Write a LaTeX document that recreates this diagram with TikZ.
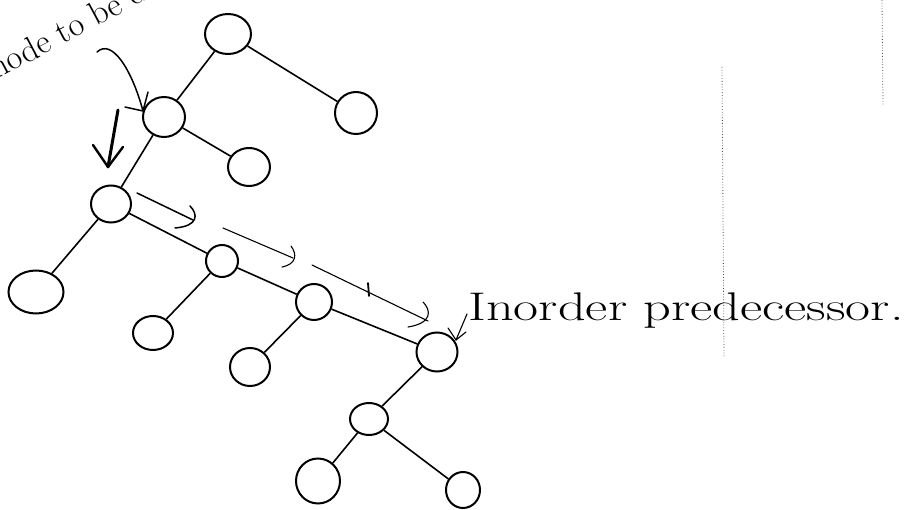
\documentclass[tikz,border=0pt]{standalone}
\begin{document}
\begin{tikzpicture}[x=1pt,y=-1pt,
  tn/.style={draw,ellipse,line width=2pt,inner sep=0pt},
  edge/.style={line width=1.6pt},
  hand/.style={line width=1.5pt,line cap=round,line join=round},
  scan/.style={dotted,line width=0.8pt,black!70}]
\usetikzlibrary{shapes.geometric}
\useasboundingbox (0,0) rectangle (913,510);
\clip (0,0) rectangle (913,510);
% nodes
\node[tn,minimum width=46pt,minimum height=40pt] (r)  at (228,34) {};
\node[tn,minimum width=42pt,minimum height=42pt] (rr) at (356,113) {};
\node[tn,minimum width=42pt,minimum height=40pt] (a)  at (164,117) {};
\node[tn,minimum width=42pt,minimum height=38pt] (ar) at (249,167) {};
\node[tn,minimum width=40pt,minimum height=37pt] (b)  at (111,204) {};
\node[tn,minimum width=55pt,minimum height=43pt] (bl) at (36,292) {};
\node[tn,minimum width=32pt,minimum height=32pt] (c)  at (222,261) {};
\node[tn,minimum width=40pt,minimum height=34pt] (cl) at (153,333) {};
\node[tn,minimum width=36pt,minimum height=36pt] (d)  at (314,302) {};
\node[tn,minimum width=40pt,minimum height=38pt] (dl) at (250,367) {};
\node[tn,minimum width=41pt,minimum height=39pt] (e)  at (437,352) {};
\node[tn,minimum width=38pt,minimum height=32pt] (f)  at (369,419) {};
\node[tn,minimum width=44pt,minimum height=45pt] (fl) at (318,481) {};
\node[tn,minimum width=34pt,minimum height=36pt] (fr) at (463,490) {};
% edges
\draw[edge] (r) -- (a);
\draw[edge] (r) -- (rr);
\draw[edge] (a) -- (ar);
\draw[edge] (a) -- (b);
\draw[edge] (b) -- (bl);
\draw[edge] (b) -- (c);
\draw[edge] (c) -- (cl);
\draw[edge] (c) -- (d);
\draw[edge] (d) -- (dl);
\draw[edge] (d) -- (e);
\draw[edge] (e) -- (f);
\draw[edge] (f) -- (fl);
\draw[edge] (f) -- (fr);
% labels
\node[anchor=base west,rotate=28,font=\fontsize{34}{40}\selectfont,inner sep=0pt] (del) at (-4,80) {node to be deleted};
\node[anchor=base west,xscale=1.36,font=\fontsize{40}{48}\selectfont,inner sep=0pt] (pred) at (468,321) {Inorder predecessor.};
% curved arrow to node to be deleted
\coordinate (c1s) at (97,52);
\coordinate (c1e) at (143,111);
\draw[hand] (c1s) .. controls (112,38) and (132,70) .. (c1e);
\draw[hand] (125,107) -- (c1e) -- (148,92);
% down arrow
\coordinate (d1s) at (118,110);
\coordinate (d1e) at (108,167);
\draw[hand,line width=3pt] (d1s) -- (d1e);
\draw[hand,line width=2.4pt] (93,145) -- (d1e) -- (123,147);
% traversal arrows with hooks
\coordinate (t1s) at (137,193); \coordinate (t1e) at (193,220);
\draw[hand] (t1s) -- (t1e);
\draw[hand] (190,206) .. controls (198,214) and (199,226) .. (175,228);
\coordinate (t2s) at (223,228); \coordinate (t2e) at (293,258);
\draw[hand,line width=1.1pt] (t2s) -- (t2e);
\draw[hand,line width=1.1pt] (291,246) .. controls (297,254) and (297,264) .. (282,267);
\coordinate (t3s) at (312,265); \coordinate (t3e) at (428,321);
\draw[hand,line width=1.1pt] (t3s) -- (t3e);
\draw[hand,line width=1.8pt] (368,283) -- (369,296);
\draw[hand,line width=1.1pt] (423,302) .. controls (431,310) and (433,323) .. (408,327);
% small arrow from label to predecessor
\coordinate (p1s) at (467,314); \coordinate (p1e) at (456,340);
\draw[hand,line width=1.1pt] (p1s) -- (p1e);
\draw[hand,line width=1.1pt] (448,328) -- (p1e) -- (466,332);
% scan dotted lines
\draw[scan] (722,67) -- (724,357);
\draw[scan] (882,0) -- (883,105);
\end{tikzpicture}
\end{document}
